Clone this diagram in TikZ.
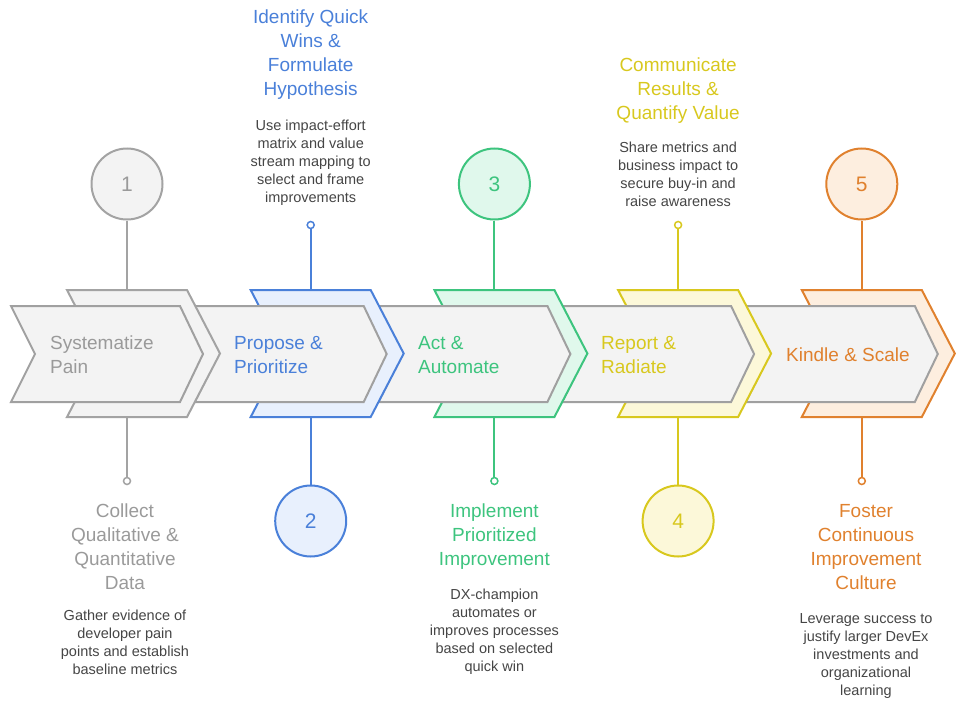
\documentclass[tikz,border=0pt]{standalone}
\usepackage{fontspec}
\setmainfont{Liberation Sans}
\usetikzlibrary{positioning}

\definecolor{c1}{HTML}{A3A3A3}
\definecolor{c1l}{HTML}{F3F3F3}
\definecolor{c2}{HTML}{4A80D9}
\definecolor{c2l}{HTML}{E8F0FD}
\definecolor{c3}{HTML}{3DC47E}
\definecolor{c3l}{HTML}{E0F8EC}
\definecolor{c4}{HTML}{D8C81E}
\definecolor{c4l}{HTML}{FCF8D9}
\definecolor{c5}{HTML}{E0812E}
\definecolor{c5l}{HTML}{FDEEDF}
\definecolor{chevline}{HTML}{A0A0A0}
\definecolor{chevfill}{HTML}{F3F3F3}
\definecolor{desctext}{HTML}{454545}
\definecolor{t1}{HTML}{9A9A9A}

\tikzset{
    numcirc/.style={circle, draw=#1, fill=#1l, line width=2pt, minimum size=71pt,
        inner sep=0pt, text=#1, font=\fontsize{21}{21}\selectfont},
    dot/.style={circle, draw=#1, fill=white, line width=1.5pt, minimum size=7pt, inner sep=0pt},
    link/.style={draw=#1, line width=2pt},
    steptitle/.style={align=center, inner sep=0pt, text=#1, font=\fontsize{19}{24}\selectfont},
    stepdesc/.style={align=center, inner sep=0pt, text=desctext, font=\fontsize{14.5}{18}\selectfont},
    chevlabel/.style={align=left, anchor=west, inner sep=0pt, text=#1, font=\fontsize{19}{24}\selectfont}
}

\begin{document}
\begin{tikzpicture}[x=1pt, y=-1pt, line join=miter]
    \useasboundingbox (0,0) rectangle (971,709);

    % Chevrons, drawn from right to left so each one lies over the next
    \foreach \i in {5,4,3,2,1} {
        \pgfmathsetmacro\dx{183.7*(\i-1)}
        \begin{scope}[xshift=\dx pt]
            \filldraw[line width=2pt, draw=c\i, fill=c\i l]
                (67,290) -- (187,290) -- (220,353.5) -- (187,417) -- (67,417) -- (100,353.5) -- cycle;
            \filldraw[line width=2pt, draw=chevline, fill=chevfill]
                (11,306) -- (180,306) -- (203,354) -- (180,402) -- (11,402) -- (35,354) -- cycle;
        \end{scope}
    }

    % Labels inside the chevrons
    \node[chevlabel=t1] (l1) at (50,355) {Systematize\\Pain};
    \node[chevlabel=c2] (l2) at (234,355) {Propose \&\\Prioritize};
    \node[chevlabel=c3] (l3) at (418,355) {Act \&\\Automate};
    \node[chevlabel=c4] (l4) at (601,355) {Report \&\\Radiate};
    \node[chevlabel=c5] (l5) at (786,355) {Kindle \& Scale};

    % Numbered circles and small end dots
    \node[numcirc=c1] (n1) at (127,184) {\textcolor{t1}{1}};
    \node[numcirc=c2] (n2) at (310.7,521) {2};
    \node[numcirc=c3] (n3) at (494.4,184) {3};
    \node[numcirc=c4] (n4) at (678.1,521) {4};
    \node[numcirc=c5] (n5) at (861.8,184) {5};

    \node[dot=c1] (d1) at (127,481) {};
    \node[dot=c2] (d2) at (310.7,225) {};
    \node[dot=c3] (d3) at (494.4,481) {};
    \node[dot=c4] (d4) at (678.1,225) {};
    \node[dot=c5] (d5) at (861.8,481) {};

    % Points where the connectors meet the chevrons
    \coordinate (top1) at (127,290);   \coordinate (bot1) at (127,417);
    \coordinate (top2) at (310.7,290); \coordinate (bot2) at (310.7,417);
    \coordinate (top3) at (494.4,290); \coordinate (bot3) at (494.4,417);
    \coordinate (top4) at (678.1,290); \coordinate (bot4) at (678.1,417);
    \coordinate (top5) at (861.8,290); \coordinate (bot5) at (861.8,417);

    % Connectors
    \draw[link=c1] (n1) -- (top1);  \draw[link=c1] (bot1) -- (d1);
    \draw[link=c2] (d2) -- (top2);  \draw[link=c2] (bot2) -- (n2);
    \draw[link=c3] (n3) -- (top3);  \draw[link=c3] (bot3) -- (d3);
    \draw[link=c4] (d4) -- (top4);  \draw[link=c4] (bot4) -- (n4);
    \draw[link=c5] (n5) -- (top5);  \draw[link=c5] (bot5) -- (d5);

    % Titles and descriptions
    \node[steptitle=t1, anchor=north] (h1) at (125,504) {Collect\\Qualitative \&\\Quantitative\\Data};
    \node[stepdesc, anchor=north] (p1) at (125,609.5) {Gather evidence of\\developer pain\\points and establish\\baseline metrics};

    \node[steptitle=c2, anchor=north] (h2) at (310.7,10) {Identify Quick\\Wins \&\\Formulate\\Hypothesis};
    \node[stepdesc, anchor=north] (p2) at (310.7,120) {Use impact-effort\\matrix and value\\stream mapping to\\select and frame\\improvements};

    \node[steptitle=c3, anchor=north] (h3) at (494.4,504) {Implement\\Prioritized\\Improvement};
    \node[stepdesc, anchor=north] (p3) at (494.4,589) {DX-champion\\automates or\\improves processes\\based on selected\\quick win};

    \node[steptitle=c4, anchor=north] (h4) at (678.1,58) {Communicate\\Results \&\\Quantify Value};
    \node[stepdesc, anchor=north] (p4) at (678.1,142) {Share metrics and\\business impact to\\secure buy-in and\\raise awareness};

    \node[steptitle=c5, anchor=north] (h5) at (866,504) {Foster\\Continuous\\Improvement\\Culture};
    \node[stepdesc, anchor=north] (p5) at (866,613) {Leverage success to\\justify larger DevEx\\investments and\\organizational\\learning};
\end{tikzpicture}
\end{document}
